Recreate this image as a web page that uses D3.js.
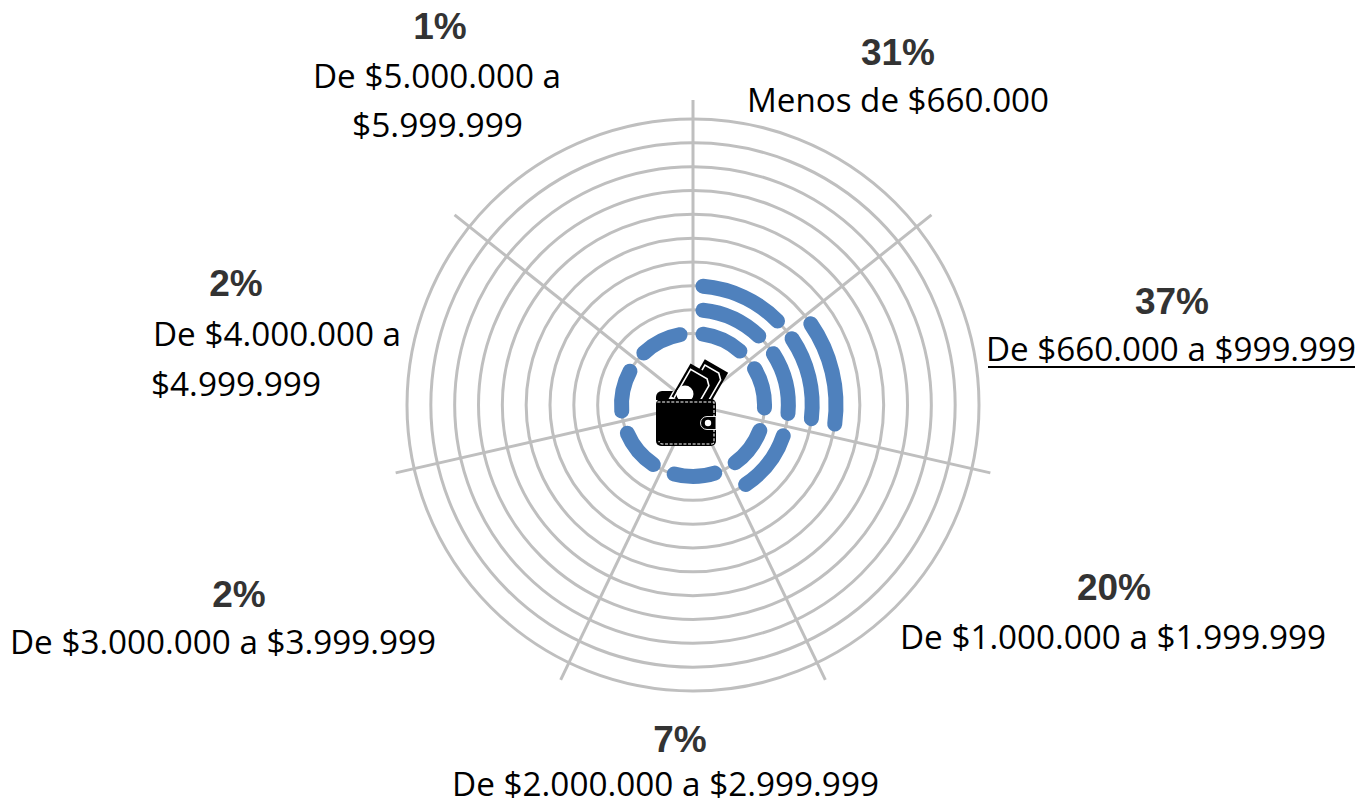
<!DOCTYPE html>
<html><head><meta charset="utf-8">
<script src="https://cdn.jsdelivr.net/npm/d3@7"></script>
<style>html,body{margin:0;background:#fff}svg{display:block}</style></head>
<body><svg id="c" width="1359" height="801"></svg>
<script>
const categories=["Menos de $660.000","De $660.000 a $999.999","De $1.000.000 a $1.999.999","De $2.000.000 a $2.999.999","De $3.000.000 a $3.999.999","De $4.000.000 a $4.999.999","De $5.000.000 a $5.999.999"];
const percentages=[31,37,20,7,2,2,1];
const arcCounts=[3,4,2,1,1,1,1];
const ringLevels=[3,4,5,6,7,8,9,10,11,12];

const W=1359,H=801,cx=693,cy=405,spokeR=305;
const svg=d3.select("#c");
const r=d3.scaleLinear().domain([0,12]).range([0,286]);
const ang=d3.scaleLinear().domain([0,categories.length]).range([0,2*Math.PI]);
const g=svg.append("g").attr("transform",`translate(${cx},${cy})`);
const grid="#bfbfbf";
g.selectAll("circle.ring").data(ringLevels).join("circle").attr("class","ring")
 .attr("r",d=>r(d)).attr("fill","none").attr("stroke",grid).attr("stroke-width",3);
g.selectAll("line.spoke").data(categories).join("line").attr("class","spoke")
 .attr("x1",0).attr("y1",0)
 .attr("x2",(d,i)=>spokeR*Math.sin(ang(i))).attr("y2",(d,i)=>-spokeR*Math.cos(ang(i)))
 .attr("stroke",grid).attr("stroke-width",3);

const arcSegs=[];
arcCounts.forEach((n,i)=>{for(let k=0;k<n;k++)arcSegs.push({i,level:3+k});});
const padStart=10,padEnd=13;
g.selectAll("path.bar").data(arcSegs).join("path").attr("class","bar")
 .attr("d",d=>{const R=r(d.level);const a0=ang(d.i)+padStart/R,a1=ang(d.i+1)-padEnd/R;
   const p=d3.path();p.arc(0,0,R,a0-Math.PI/2,a1-Math.PI/2);return p.toString();})
 .attr("fill","none").attr("stroke","#4f81bd").attr("stroke-width",15).attr("stroke-linecap","round");

// wallet icon
const w=svg.append("g").attr("transform","translate(656,391)");
const bill=(tx,ty,rot,bw,bh)=>{const b=w.append("g").attr("transform",`translate(${tx},${ty}) rotate(${rot})`);
 b.append("rect").attr("x",-bw/2).attr("y",-bh/2).attr("width",bw).attr("height",bh).attr("fill","#000");
 b.append("path").attr("d",`M${-bw/2+3},${bh/2}V${-bh/2+5}H${bw/2-8}L${bw/2-3},${-bh/2+10}V${bh/2}`)
  .attr("fill","none").attr("stroke","#fff").attr("stroke-width",1.6);
 return b;};
bill(50.5,-7.7,30,27,40);
bill(38,-3.5,30,30,38);
w.append("circle").attr("cx",29).attr("cy",3).attr("r",8.5).attr("fill","#fff");
w.append("rect").attr("x",0).attr("y",8).attr("width",60).attr("height",47).attr("rx",5).attr("fill","#000");
w.append("path").attr("d","M0,9V6a6,6 0 0 1 6,-6H17L12,9Z").attr("fill","#000");
w.append("path").attr("d","M1.5,11H58V26M58,38V51a2,2 0 0 1 -2,2H6a3,3 0 0 1 -3,-3").attr("fill","none").attr("stroke","#fff").attr("stroke-width",1.1).attr("stroke-dasharray","3 1.6");
w.append("path").attr("d","M60,25.5H51a6.5,6.5 0 0 0 0,13H60Z").attr("fill","#000").attr("stroke","#fff").attr("stroke-width",0.9);
w.append("circle").attr("cx",52).attr("cy",32).attr("r",3.2).attr("fill","#fff");

// labels
const pctPos=[[898,65],[1172,314],[1114,600],[680,752],[239,607],[236,296],[440,39]];
const linePos=[
 [["Menos de $660.000",747,1049,112]],
 [["De $660.000 a $999.999",986,1356,361]],
 [["De $1.000.000 a $1.999.999",900,1326,649]],
 [["De $2.000.000 a $2.999.999",452,879,796]],
 [["De $3.000.000 a $3.999.999",10,436,654]],
 [["De $4.000.000 a",153,401,346],["$4.999.999",151,321,396]],
 [["De $5.000.000 a",313,561,88],["$5.999.999",352,523,137]]];
percentages.forEach((p,i)=>{
 svg.append("text").attr("x",pctPos[i][0]).attr("y",pctPos[i][1]).attr("text-anchor","middle")
  .attr("font-family","'Liberation Sans',Arial,sans-serif").attr("font-weight","700").attr("font-size",37).attr("fill","#333")
  .text(p+"%");
 linePos[i].forEach(l=>{
  svg.append("text").attr("x",l[1]).attr("y",l[3])
   .attr("textLength",l[2]-l[1]).attr("lengthAdjust","spacingAndGlyphs")
   .attr("font-family","'Open Sans',sans-serif").attr("font-size",33).attr("fill","#000")
   .text(l[0]);
 });
});
svg.append("line").attr("x1",988).attr("x2",1355).attr("y1",367).attr("y2",367).attr("stroke","#000").attr("stroke-width",2);
</script></body></html>
